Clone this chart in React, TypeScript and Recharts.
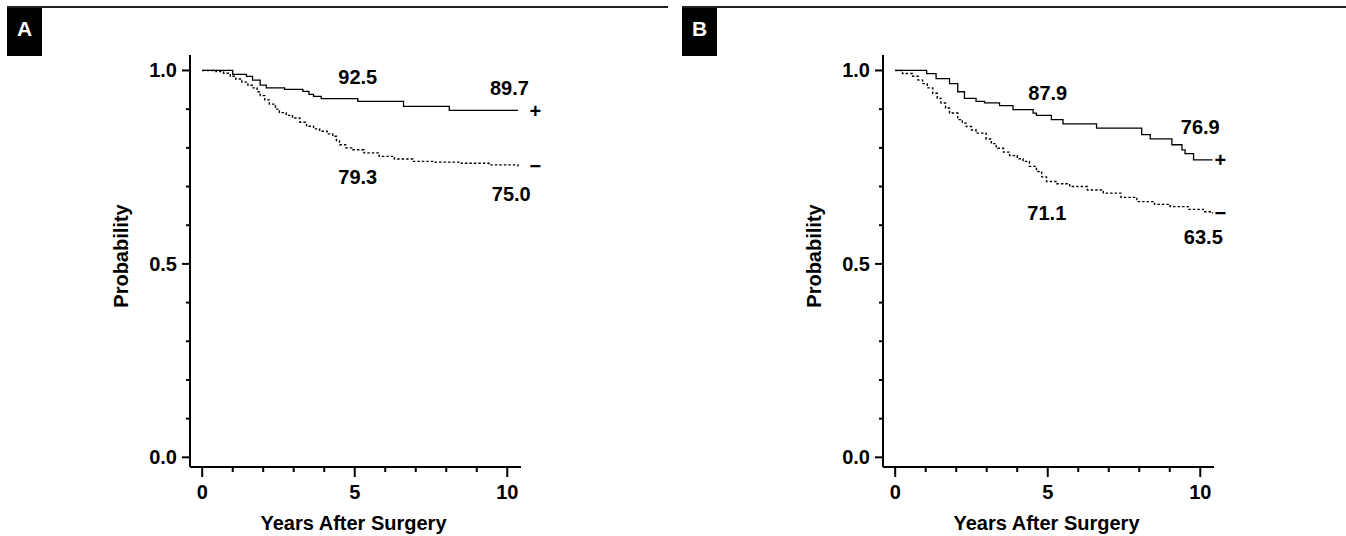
import { LineChart, Line, XAxis, YAxis, ReferenceDot } from "recharts";

const FONT = '"Liberation Sans", Arial, Helvetica, sans-serif';

// Kaplan-Meier estimates (years after surgery, probability)
const A_POS_YEARS = [0, 1.0, 1.45, 1.65, 1.9, 2.1, 2.7, 3.3, 3.5, 3.65, 3.9, 5.1, 6.6, 8.1, 10.35];
const A_POS_PROB = [1.0, 0.99, 0.985, 0.975, 0.962, 0.955, 0.951, 0.946, 0.938, 0.933, 0.927, 0.92, 0.907, 0.897, 0.897];

const A_NEG_YEARS = [
  0, 0.45, 0.7, 0.92, 1.1, 1.3, 1.5, 1.64, 1.8, 1.9, 2.05, 2.2, 2.4, 2.53, 2.75, 2.96, 3.2, 3.42,
  3.65, 3.85, 4.1, 4.28, 4.4, 4.5, 4.7, 4.93, 5.3, 5.8, 6.3, 6.9, 7.6, 8.5, 9.4, 10.35,
];
const A_NEG_PROB = [
  1.0, 0.997, 0.993, 0.985, 0.978, 0.97, 0.962, 0.955, 0.945, 0.935, 0.924, 0.913, 0.9, 0.891, 0.884,
  0.877, 0.866, 0.856, 0.849, 0.843, 0.836, 0.83, 0.818, 0.808, 0.8, 0.795, 0.787, 0.778, 0.771, 0.765,
  0.763, 0.76, 0.756, 0.752,
];

const B_POS_YEARS = [
  0, 1.03, 1.34, 1.78, 2.05, 2.27, 2.65, 2.93, 3.42, 3.86, 4.52, 4.63, 5.12, 5.5, 6.6, 8.08, 8.36,
  9.07, 9.4, 9.5, 9.78, 10.4,
];
const B_POS_PROB = [
  1.0, 0.992, 0.979, 0.966, 0.945, 0.928, 0.92, 0.916, 0.909, 0.899, 0.89, 0.884, 0.873, 0.862, 0.851,
  0.834, 0.823, 0.808, 0.795, 0.785, 0.769, 0.769,
];

const B_NEG_YEARS = [
  0, 0.24, 0.57, 0.75, 0.9, 1.05, 1.23, 1.38, 1.5, 1.65, 1.78, 2.05, 2.2, 2.33, 2.5, 2.65, 2.98, 3.15,
  3.31, 3.55, 3.75, 4.0, 4.19, 4.4, 4.63, 4.8, 4.96, 5.3, 5.72, 6.3, 6.82, 7.4, 7.92, 8.5, 9.01, 9.6,
  10.1, 10.4,
];
const B_NEG_PROB = [
  1.0, 0.992, 0.985, 0.975, 0.966, 0.955, 0.941, 0.928, 0.916, 0.903, 0.89, 0.873, 0.864, 0.855, 0.846,
  0.838, 0.823, 0.811, 0.799, 0.789, 0.78, 0.772, 0.765, 0.752, 0.739, 0.725, 0.713, 0.707, 0.7, 0.691,
  0.683, 0.672, 0.661, 0.654, 0.648, 0.641, 0.635, 0.63,
];

const Y_TICKS = [0, 0.1, 0.2, 0.3, 0.4, 0.5, 0.6, 0.7, 0.8, 0.9, 1.0];
const X_TICKS = [0, 1, 2, 3, 4, 5, 6, 7, 8, 9, 10];

// annotations: text, year, probability where the text sits
const A_NOTES = [
  { text: "92.5", t: 5.1, p: 0.984 },
  { text: "89.7", t: 10.07, p: 0.955 },
  { text: "+", t: 10.92, p: 0.896 },
  { text: "79.3", t: 5.1, p: 0.725 },
  { text: "75.0", t: 10.13, p: 0.681 },
  { text: "\u2212", t: 10.92, p: 0.754 },
];
const B_NOTES = [
  { text: "87.9", t: 5.0, p: 0.942 },
  { text: "76.9", t: 10.0, p: 0.854 },
  { text: "+", t: 10.66, p: 0.769 },
  { text: "71.1", t: 4.97, p: 0.632 },
  { text: "63.5", t: 10.1, p: 0.57 },
  { text: "\u2212", t: 10.66, p: 0.632 },
];

const toRows = (years: number[], probs: number[]) => years.map((t, i) => ({ t, p: probs[i] }));

const isMajor = (v: number, step: number) => Math.abs(v / step - Math.round(v / step)) < 1e-6;

function YTick({ x, y, payload }: any) {
  const major = isMajor(payload.value, 0.5);
  return (
    <g>
      <line x1={x} x2={x - (major ? 8 : 4)} y1={y} y2={y} stroke="#000" strokeWidth={2} />
      {major && (
        <text x={x - 13} y={y} textAnchor="end" dominantBaseline="central" fontFamily={FONT} fontWeight="bold" fontSize={20} fill="#000">
          {payload.value.toFixed(1)}
        </text>
      )}
    </g>
  );
}

function XTick({ x, y, payload }: any) {
  const major = isMajor(payload.value, 5);
  return (
    <g>
      <line x1={x} x2={x} y1={y + 1} y2={y + (major ? 10 : 5)} stroke="#000" strokeWidth={2} />
      {major && (
        <text x={x} y={y + 25} textAnchor="middle" dominantBaseline="central" fontFamily={FONT} fontWeight="bold" fontSize={20} fill="#000">
          {payload.value}
        </text>
      )}
    </g>
  );
}

type Note = { text: string; t: number; p: number };

type PanelProps = {
  left: number;
  pos: { t: number; p: number }[];
  neg: { t: number; p: number }[];
  notes: Note[];
};

function Tag({ letter, left, width }: { letter: string; left: number; width: number }) {
  return (
    <>
      <div style={{ position: "absolute", left, top: 6, width, height: 2, background: "#222" }} />
      <div
        style={{
          position: "absolute",
          left,
          top: 8,
          width: 35,
          height: 48,
          background: "#000",
          color: "#fff",
          fontFamily: FONT,
          fontWeight: "bold",
          fontSize: 21,
          textAlign: "center",
          lineHeight: "42px",
        }}
      >
        {letter}
      </div>
    </>
  );
}

function Panel({ left, pos, neg, notes }: PanelProps) {
  return (
    <div style={{ position: "absolute", left, top: 0, width: 673, height: 536 }}>
      <LineChart width={673} height={536} margin={{ top: 55, right: 152, bottom: 9, left: 110 }}>
        <XAxis
          type="number"
          dataKey="t"
          domain={[-0.4, 10.45]}
          ticks={X_TICKS}
          allowDataOverflow
          height={60}
          tickSize={0}
          tickMargin={0}
          tickLine={false}
          axisLine={{ stroke: "#000", strokeWidth: 2 }}
          tick={<XTick />}
          interval={0}
          label={{
            content: ({ viewBox }: any) => (
              <text x={viewBox.x + viewBox.width / 2 - 2} y={viewBox.y + 56} textAnchor="middle" dominantBaseline="central" fontFamily={FONT} fontWeight="bold" fontSize={20} fill="#000">
                Years After Surgery
              </text>
            ),
          }}
        />
        <YAxis
          type="number"
          dataKey="p"
          domain={[-0.025, 1.04]}
          ticks={Y_TICKS}
          allowDataOverflow
          width={80}
          tickSize={0}
          tickMargin={0}
          tickLine={false}
          axisLine={{ stroke: "#000", strokeWidth: 2 }}
          tick={<YTick />}
          interval={0}
          label={{
            content: ({ viewBox }: any) => {
              const cx = viewBox.x + viewBox.width - 69;
              const cy = viewBox.y + viewBox.height / 2 - 5;
              return (
                <text x={cx} y={cy} transform={`rotate(-90 ${cx} ${cy})`} textAnchor="middle" dominantBaseline="central" fontFamily={FONT} fontWeight="bold" fontSize={20} fill="#000">
                  Probability
                </text>
              );
            },
          }}
        />
        <Line data={pos} dataKey="p" type="stepAfter" stroke="#000" strokeWidth={1.3} dot={false} activeDot={false} isAnimationActive={false} />
        <Line data={neg} dataKey="p" type="stepAfter" stroke="#000" strokeWidth={1.4} strokeDasharray="2.5 2" dot={false} activeDot={false} isAnimationActive={false} />
        {notes.map((n) => (
          <ReferenceDot
            key={n.text + n.t}
            x={n.t}
            y={n.p}
            r={0}
            ifOverflow="visible"
            shape={({ cx, cy }: any) => (
              <text x={cx} y={cy} textAnchor="middle" dominantBaseline="central" fontFamily={FONT} fontWeight="bold" fontSize={20} fill="#000">
                {n.text}
              </text>
            )}
          />
        ))}
      </LineChart>
    </div>
  );
}

export default function App() {
  return (
    <div style={{ position: "relative", width: 1346, height: 536, background: "#fff", overflow: "hidden" }}>
      <style>{"body{margin:0;}"}</style>
      <Panel left={0} pos={toRows(A_POS_YEARS, A_POS_PROB)} neg={toRows(A_NEG_YEARS, A_NEG_PROB)} notes={A_NOTES} />
      <Panel left={693} pos={toRows(B_POS_YEARS, B_POS_PROB)} neg={toRows(B_NEG_YEARS, B_NEG_PROB)} notes={B_NOTES} />
      <Tag letter="A" left={7} width={661} />
      <Tag letter="B" left={682} width={664} />
    </div>
  );
}
